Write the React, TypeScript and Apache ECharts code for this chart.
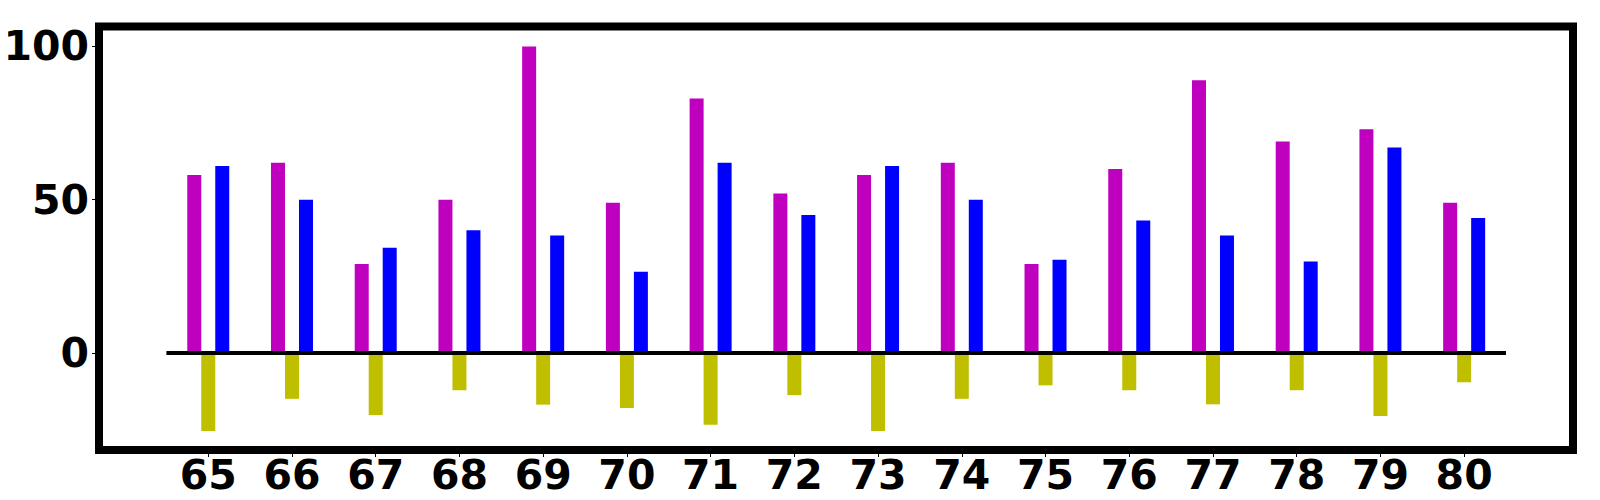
import React, { useEffect, useRef } from "react";
import * as echarts from "echarts";

const categories = [65, 66, 67, 68, 69, 70, 71, 72, 73, 74, 75, 76, 77, 78, 79, 80];
const magentaValues = [58, 62, 29, 50, 100, 49, 83, 52, 58, 62, 29, 60, 89, 69, 73, 49];
const olivaValues = [-25.5, -15, -20.3, -12.2, -16.9, -18, -23.5, -13.8, -25.5, -15, -10.6, -12.2, -16.8, -12.2, -20.6, -9.6];
const blueValues = [61, 50, 34.3, 40, 38.3, 26.5, 62, 45, 61, 50, 30.4, 43.2, 38.3, 29.8, 67, 44];
const yTicks = [0, 50, 100];

export default function App() {
  const ref = useRef<HTMLDivElement>(null);
  useEffect(() => {
    if (!ref.current) return;
    const chart = echarts.init(ref.current, undefined, { renderer: "svg" });
    const font = { fontFamily: "DejaVu Sans", fontWeight: "bold" as const, fontSize: 41, color: "#000" };
    const mk = (vals: number[]) => categories.map((c, i) => [c, vals[i]]);
    chart.setOption({
      animation: false,
      grid: {
        left: 99,
        top: 26.5,
        width: 1474,
        height: 423.5,
        show: true,
        borderColor: "#000",
        borderWidth: 8,
        backgroundColor: "#fff",
        containLabel: false,
        outerBoundsMode: "none",
      },
      xAxis: {
        type: "value",
        min: 63.695,
        max: 81.3,
        axisLine: { show: false, onZero: false },
        splitLine: { show: false },
        axisTick: { show: true, length: 7, lineStyle: { color: "#000", width: 1 }, customValues: categories },
        axisLabel: { ...font, lineHeight: 32, margin: 9, customValues: categories, formatter: (v: number) => String(v) },
      },
      yAxis: {
        type: "value",
        min: -31.7,
        max: 106.5,
        axisLine: { show: false, onZero: false },
        splitLine: { show: false },
        axisTick: { show: true, length: 7, lineStyle: { color: "#000", width: 1 }, customValues: yTicks },
        axisLabel: { ...font, margin: 10, customValues: yTicks, formatter: (v: number) => String(v) },
      },
      series: [
        {
          type: "bar",
          name: "magenta",
          data: mk(magentaValues),
          barWidth: 14,
          barGap: 0,
          itemStyle: { color: "#bf00bf" },
        },
        {
          type: "bar",
          name: "olive",
          data: mk(olivaValues),
          barWidth: 14,
          barGap: 0,
          itemStyle: { color: "#bfbf00" },
          markLine: {
            symbol: "none",
            silent: true,
            label: { show: false },
            lineStyle: { color: "#000", width: 4, type: "solid" },
            data: [[{ coord: [64.5, 0] }, { coord: [80.5, 0] }]],
          },
        },
        {
          type: "bar",
          name: "blue",
          data: mk(blueValues),
          barWidth: 14,
          barGap: 0,
          itemStyle: { color: "#0000ff" },
        },
      ],
    });
    return () => chart.dispose();
  }, []);
  return <div ref={ref} style={{ width: 1600, height: 500, margin: -8 }} />;
}
